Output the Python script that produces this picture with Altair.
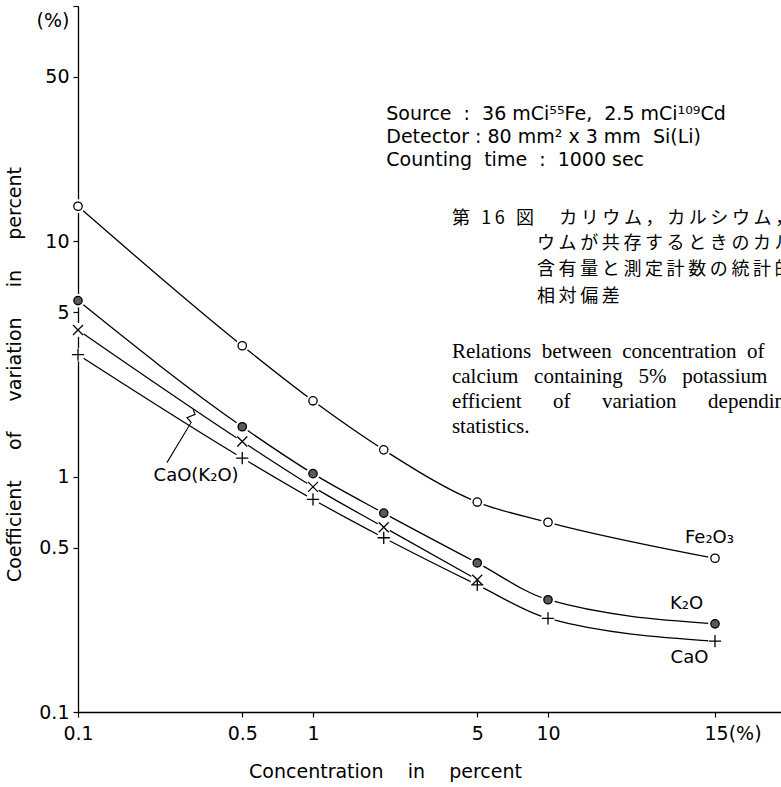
import altair as alt
import pandas as pd

# ---------------- data ----------------
conc = [0.1, 0.5, 1, 2, 5, 10, 15]
fe2o3 = [14.1, 3.6, 2.1, 1.30, 0.78, 0.64, 0.45]
k2o = [5.6, 1.63, 1.03, 0.70, 0.43, 0.30, 0.237]
cao_k2o = [4.2, 1.41, 0.905, 0.61, 0.365]
cao = [3.3, 1.2, 0.80, 0.55, 0.347, 0.25, 0.20]
series_names = ["Fe2O3", "K2O", "CaO(K2O)", "CaO"]

x_ticks = [0.1, 0.5, 1, 5, 10, 15]
y_ticks = [0.1, 0.5, 1, 5, 10, 50, 100]

# curve labels (text, anchor in data units)
curve_label_text = ["Fe₂O₃", "K₂O", "CaO", "CaO(K₂O)"]
curve_label_x = [14.8, 14.0, 14.1, 0.318]
curve_label_y = [0.55, 0.288, 0.169, 1.01]

# leader line from "CaO(K2O)" label to its curve
leader_x = [0.239, 0.303, 0.291, 0.315, 0.309]
leader_y = [1.147, 1.70, 1.78, 1.84, 1.93]

# measurement conditions block
spec_lines = ["Source  :  36 mCi⁵⁵Fe,  2.5 mCi¹⁰⁹Cd",
              "Detector : 80 mm² x 3 mm  Si(Li)",
              "Counting  time  :  1000 sec"]
spec_x = [2.05, 2.05, 2.05]
spec_y = [34.7, 27.7, 22.1]

# Japanese caption
jp_lines = ["第 16 図　カリウム，カルシウム，",
            "ウムが共存するときのカル",
            "含有量と測定計数の統計的",
            "相対偏差"]
jp_x = [3.90, 8.98, 8.98, 8.98]
jp_y = [12.5, 9.71, 7.52, 5.78]

# English caption (justified paragraph, cut by the right edge)
en_lines = ["Relations  between  concentration  of",
            "calcium   containing   5%   potassium",
            "efficient      of      variation      depending",
            "statistics."]
en_x = [3.90, 3.90, 3.90, 3.90]
en_y = [3.40, 2.66, 2.08, 1.63]

# ---------------- tables ----------------
rows = []
for name, vals in zip(series_names, [fe2o3, k2o, cao_k2o, cao]):
    for c, v in zip(conc, vals):
        rows.append({"series": name, "conc": c, "cv": v})
df = pd.DataFrame(rows)

nb = lambda s: s.replace(" ", "\u00a0")
spaced = lambda s: "\u2009".join(list(s))  # letter spacing for the Japanese caption

df_lab = pd.DataFrame({"conc": curve_label_x, "cv": curve_label_y, "text": [nb(t) for t in curve_label_text]})
df_leader = pd.DataFrame({"conc": leader_x, "cv": leader_y, "ord": list(range(len(leader_x)))})
df_spec = pd.DataFrame({"conc": spec_x, "cv": spec_y, "text": [nb(t) for t in spec_lines]})
df_jp = pd.DataFrame({"conc": jp_x, "cv": jp_y, "text": [nb(spaced(t)) for t in jp_lines]})
df_en = pd.DataFrame({"conc": en_x, "cv": en_y, "text": [nb(t) for t in en_lines]})

# ---------------- scales & axes ----------------
W, H = 703, 706
FONT = "DejaVu Sans"

xscale = alt.Scale(type="log", domain=[0.1, 10, 15, 17], range=[0, 470, 637, W], nice=False)
yscale = alt.Scale(type="log", domain=[0.1, 100], nice=False)

x_axis = alt.Axis(
    values=x_ticks, format="~g",
    labelExpr="datum.value == 15 ? '15(%)' : datum.label",
    labelAlign={"condition": {"test": "datum.value == 15", "value": "left"}, "value": "center"},
    labelOffset={"condition": {"test": "datum.value == 15", "value": -11}, "value": 0},
    title=nb("Concentration    in    percent"),
    titleX=307, titleY=50, titleBaseline="top", titleAnchor="middle",
    labelPadding=7, tickSize=5, grid=False,
)
y_axis = alt.Axis(
    values=y_ticks, format="~g",
    labelExpr="datum.value >= 100 ? '(%)' : datum.label",
    labelOffset={"condition": {"test": "datum.value >= 100", "value": 14}, "value": 0},
    title=nb("Coefficient     of     variation     in     percent"),
    titleX=-54, titleY=368, labelPadding=4, tickSize=5, grid=False,
)

X = alt.X("conc:Q", scale=xscale, axis=x_axis)
Y = alt.Y("cv:Q", scale=yscale, axis=y_axis)

base = alt.Chart(df)

lines = base.mark_line(interpolate="monotone", color="black", strokeWidth=1.3).encode(
    x=X, y=Y, detail="series:N")

halo = base.mark_point(shape="circle", filled=True, size=190, color="white", opacity=1).encode(x=X, y=Y)

fe_pts = base.transform_filter(alt.datum.series == "Fe2O3").mark_point(
    shape="circle", filled=True, size=70, fill="white", stroke="black", strokeWidth=1.3, opacity=1
).encode(x=X, y=Y)
k_pts = base.transform_filter(alt.datum.series == "K2O").mark_point(
    shape="circle", filled=True, size=70, fill="#5a5a5a", stroke="black", strokeWidth=1.3, opacity=1
).encode(x=X, y=Y)
ck_pts = base.transform_filter(alt.datum.series == "CaO(K2O)").mark_point(
    shape="M-1,-1L1,1M-1,1L1,-1", filled=False, size=100, stroke="black", strokeWidth=1.3, opacity=1
).encode(x=X, y=Y)
c_pts = base.transform_filter(alt.datum.series == "CaO").mark_point(
    shape="M-1,0L1,0M0,-1L0,1", filled=False, size=150, stroke="black", strokeWidth=1.3, opacity=1
).encode(x=X, y=Y)

leader = alt.Chart(df_leader).mark_line(color="black", strokeWidth=1.1).encode(
    x=X, y=Y, order="ord:Q")

labels = alt.Chart(df_lab).mark_text(font=FONT, fontSize=18, align="center", baseline="middle",
                                     color="black").encode(x=X, y=Y, text="text:N")

spec = alt.Chart(df_spec).mark_text(font=FONT, fontSize=19, align="left", baseline="middle",
                                    color="black").encode(x=X, y=Y, text="text:N")

jp = alt.Chart(df_jp).mark_text(font="Noto Sans CJK JP", fontSize=18, align="left", baseline="middle",
                                color="black").encode(x=X, y=Y, text="text:N")

en = alt.Chart(df_en).mark_text(font="Liberation Serif", fontSize=21, align="left", baseline="middle",
                                color="black").encode(x=X, y=Y, text="text:N")

chart = alt.layer(lines, leader, halo, fe_pts, k_pts, ck_pts, c_pts, labels, spec, jp, en).properties(
    width=W, height=H,
    autosize=alt.AutoSizeParams(type="none"),
    padding={"left": 78, "top": 6, "right": 0, "bottom": 75},
    background="white",
).configure_view(stroke=None).configure_axis(
    domainColor="black", domainWidth=1.3, tickColor="black", tickWidth=1.2,
    labelColor="black", labelFont=FONT, labelFontSize=19,
    titleColor="black", titleFont=FONT, titleFontSize=19, titleFontWeight="normal",
)

chart.save("out.html", embed_options={"renderer": "svg", "actions": False})
